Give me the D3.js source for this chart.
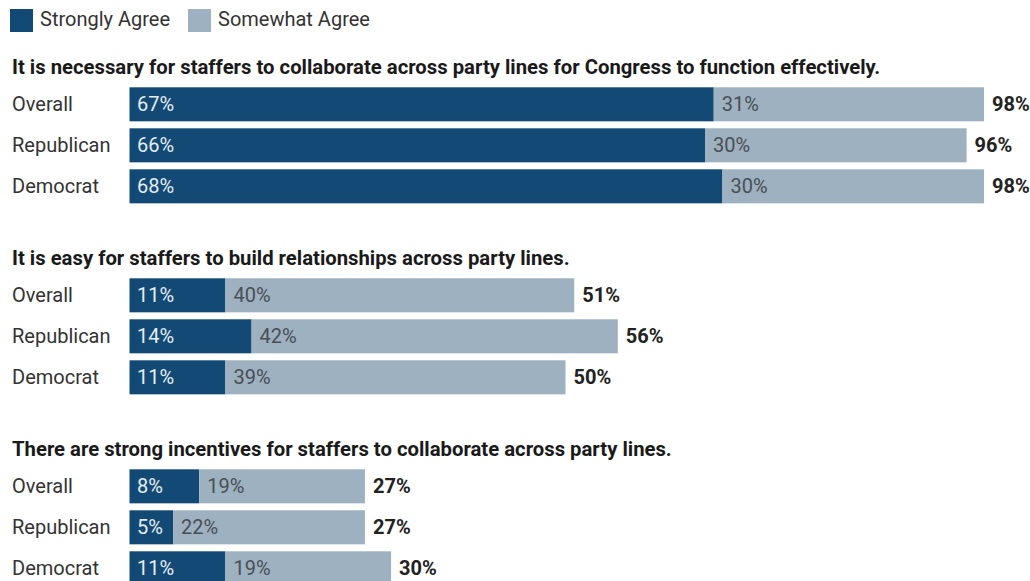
<!DOCTYPE html>
<html>
<head>
<meta charset="utf-8">
<script src="https://cdn.jsdelivr.net/npm/d3@7"></script>
<style>
  html, body { margin: 0; padding: 0; background: #fff; }
  svg { display: block; font-family: Roboto, "Noto Sans", sans-serif; }
</style>
</head>
<body>
<svg id="chart" width="1030" height="581"></svg>
<script>
// Survey statements
const questions = [
  "It is necessary for staffers to collaborate across party lines for Congress to function effectively.",
  "It is easy for staffers to build relationships across party lines.",
  "There are strong incentives for staffers to collaborate across party lines."
];
// Respondent groups
const groups = ["Overall", "Republican", "Democrat"];
// Response series
const seriesNames = ["Strongly Agree", "Somewhat Agree"];
// Percent "Strongly Agree" per question (rows follow groups)
const stronglyAgree = [
  [67, 66, 68],
  [11, 14, 11],
  [8, 5, 11]
];
// Percent "Somewhat Agree" per question
const somewhatAgree = [
  [31, 30, 30],
  [40, 42, 39],
  [19, 22, 19]
];

const colors = { strong: "#124a75", somewhat: "#9db1c0" };

const svg = d3.select("#chart");

// Horizontal percent scale shared by every bar
const x = d3.scaleLinear().domain([0, 100]).range([129.5, 1001.5]);

// Vertical layout: one block per question, one band per group inside it
const blockY = d3.scaleBand().domain(d3.range(questions.length)).range([68, 641]);
const rowY = d3.scaleBand().domain(groups).range([0, 123]).paddingInner(0.17).paddingOuter(0.085);

// Legend
const legend = svg.append("g").attr("transform", "translate(10,9)");
const legendItems = [
  { name: seriesNames[0], color: colors.strong, x: 0 },
  { name: seriesNames[1], color: colors.somewhat, x: 178 }
];
legendItems.forEach(d => {
  const g = legend.append("g").attr("transform", `translate(${d.x},0)`);
  g.append("rect").attr("width", 23).attr("height", 23).attr("fill", d.color);
  g.append("text").attr("x", 30).attr("y", 17)
    .attr("font-size", 20).attr("fill", "#333").text(d.name);
});

questions.forEach((q, qi) => {
  const top = blockY(qi) + 19.3; // top of the first bar in this block
  const block = svg.append("g").attr("transform", `translate(0,${top})`);

  block.append("text")
    .attr("x", 12).attr("y", -13.3)
    .attr("font-size", 20.3).attr("font-weight", 700).attr("fill", "#1a1a1a")
    .text(q);

  const rows = groups.map((gName, gi) => ({
    group: gName,
    strong: stronglyAgree[qi][gi],
    somewhat: somewhatAgree[qi][gi]
  }));

  const row = block.selectAll("g.row").data(rows).join("g")
    .attr("class", "row")
    .attr("transform", d => `translate(0,${rowY(d.group) - rowY(groups[0])})`);

  const h = rowY.bandwidth();

  row.append("text")
    .attr("x", 12).attr("y", h / 2 + 7)
    .attr("font-size", 20).attr("fill", "#333")
    .text(d => d.group);

  row.append("rect")
    .attr("x", x(0)).attr("y", 0)
    .attr("width", d => x(d.strong) - x(0)).attr("height", h)
    .attr("fill", colors.strong);

  row.append("rect")
    .attr("x", d => x(d.strong)).attr("y", 0)
    .attr("width", d => x(d.strong + d.somewhat) - x(d.strong)).attr("height", h)
    .attr("fill", colors.somewhat);

  row.append("text")
    .attr("x", x(0) + 7.5).attr("y", h / 2 + 7)
    .attr("font-size", 20).attr("fill", "#e6edf2")
    .text(d => d.strong + "%");

  row.append("text")
    .attr("x", d => x(d.strong) + 8).attr("y", h / 2 + 7)
    .attr("font-size", 20).attr("fill", "#4a4f55")
    .text(d => d.somewhat + "%");

  row.append("text")
    .attr("x", d => x(d.strong + d.somewhat) + 8).attr("y", h / 2 + 7)
    .attr("font-size", 20).attr("font-weight", 700).attr("fill", "#222")
    .text(d => (d.strong + d.somewhat) + "%");
});
</script>
</body>
</html>
